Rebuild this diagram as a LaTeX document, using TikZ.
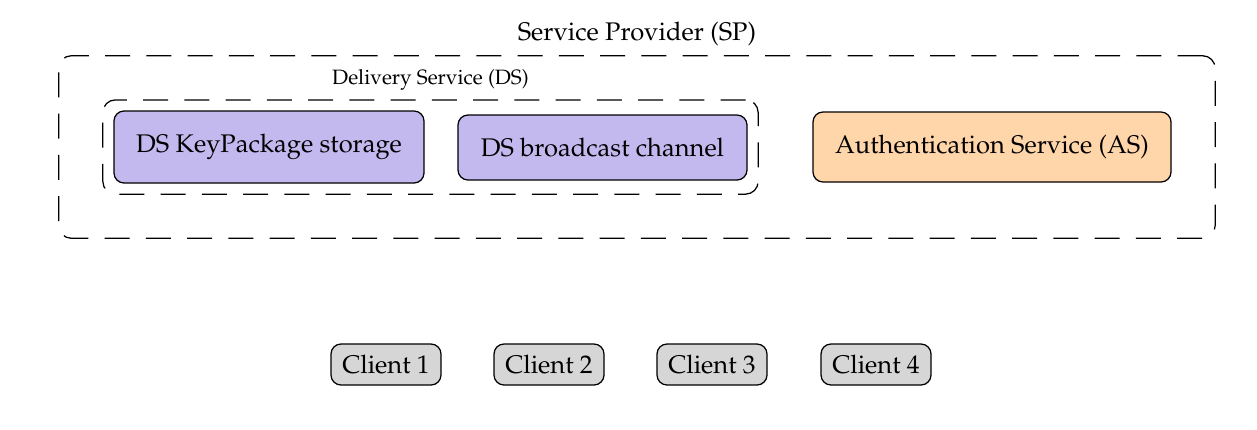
\documentclass[tikz,border=0pt]{standalone}
\usepackage[T1]{fontenc}
\usepackage{mathpazo}
\usepackage[svgnames]{xcolor}
\usetikzlibrary{positioning, fit}
\definecolor{dsfill}{HTML}{C4B9EE}
\definecolor{asfill}{HTML}{FFD5AA}
\definecolor{clfill}{HTML}{D6D6D6}
\tikzset{
  every node/.style={font=\fontsize{10.2pt}{12pt}\selectfont},
  box/.style={draw, rounded corners=4pt, line width=0.5pt, align=center, inner sep=0pt},
  dsbox/.style={box, fill=dsfill},
  asbox/.style={box, fill=asfill},
  clientbox/.style={box, fill=clfill, minimum width=44pt, minimum height=16.4pt},
  group/.style={draw, rounded corners=5pt, line width=0.5pt, dash pattern=on 10pt off 6.5pt}
}

\begin{document}
\begin{tikzpicture}[x=0.4pt, y=-0.4pt]
    \useasboundingbox (0,0) rectangle (1257,429);
    % services
    \node[dsbox, minimum width=124pt, minimum height=28.8pt] (kp) at (269,147) {DS KeyPackage storage};
    \node[dsbox, minimum width=115.6pt, minimum height=26pt] (bc) at (602.5,147.5) {DS broadcast channel};
    \node[asbox, minimum width=143.2pt, minimum height=28pt] (as) at (992,147) {Authentication Service (AS)};
    % groups
    \node[group, fit=(kp)(bc), inner sep=4.2pt] (ds) {};
    \node[above=0pt of ds, font=\fontsize{8.3pt}{10pt}\selectfont] (dslabel) {Delivery Service (DS)};
    \node[group, fit=(ds)(as), inner sep=17.4pt] (sp) {};
    \node[above=0pt of sp] (splabel) {Service Provider (SP)};
    % clients
    \foreach \i/\x in {1/386, 2/549, 3/712, 4/876}
        \node[clientbox] (client\i) at (\x,364.5) {Client \i};
\end{tikzpicture}
\end{document}
